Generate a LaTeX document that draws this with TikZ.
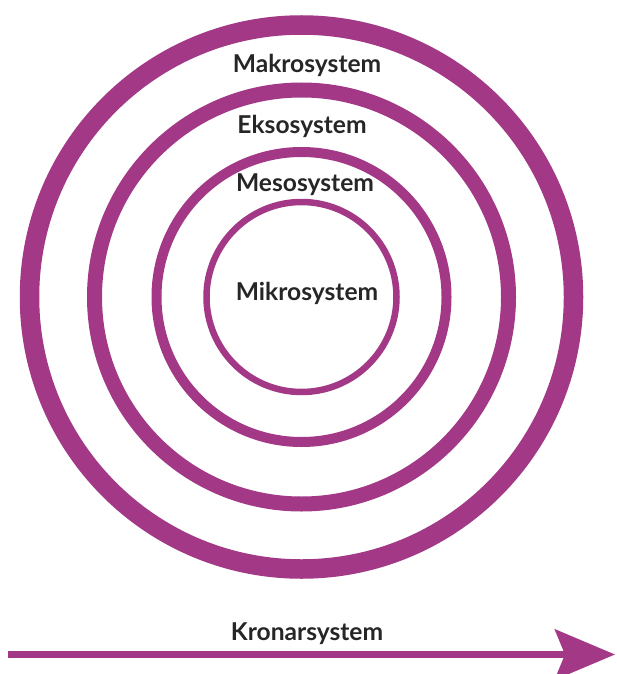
\documentclass[tikz,border=0pt]{standalone}
\usepackage{fontspec}
\setmainfont{Lato}
\usetikzlibrary{arrows.meta}
\definecolor{ringpurple}{RGB}{162,56,134}
\definecolor{labelgray}{RGB}{38,38,38}
\begin{document}
\begin{tikzpicture}[x=1pt,y=-1pt,
  ring/.style={circle,draw=ringpurple,inner sep=0pt,outer sep=0pt},
  lbl/.style={font=\fontsize{24.6}{28}\selectfont\bfseries,text=labelgray,anchor=base,inner sep=0pt}]
\useasboundingbox (0,0) rectangle (616,674);
\coordinate (c) at (301.5,297);
\node[ring,line width=19.5pt,minimum size=544pt] (makro) at (c) {};
\node[ring,line width=15pt,minimum size=414pt] (ekso) at (c) {};
\node[ring,line width=10pt,minimum size=290pt] (meso) at (c) {};
\node[ring,line width=6.5pt,minimum size=190pt] (mikro) at (c) {};
\node[lbl] (tmakro) at (307,73) {Makrosystem};
\node[lbl] (tekso) at (302,133) {Eksosystem};
\node[lbl] (tmeso) at (305,191) {Mesosystem};
\node[lbl] (tmikro) at (307,300) {Mikrosystem};
\node[lbl] (tkron) at (307,640) {Kronarsystem};
\coordinate (astart) at (8,654.5);
\coordinate (aend) at (615,654.5);
\draw[draw=ringpurple,line width=7pt,-{Stealth[length=60pt,width=50pt,inset=10pt,fill=ringpurple]}] (astart) -- (aend);
\end{tikzpicture}
\end{document}
